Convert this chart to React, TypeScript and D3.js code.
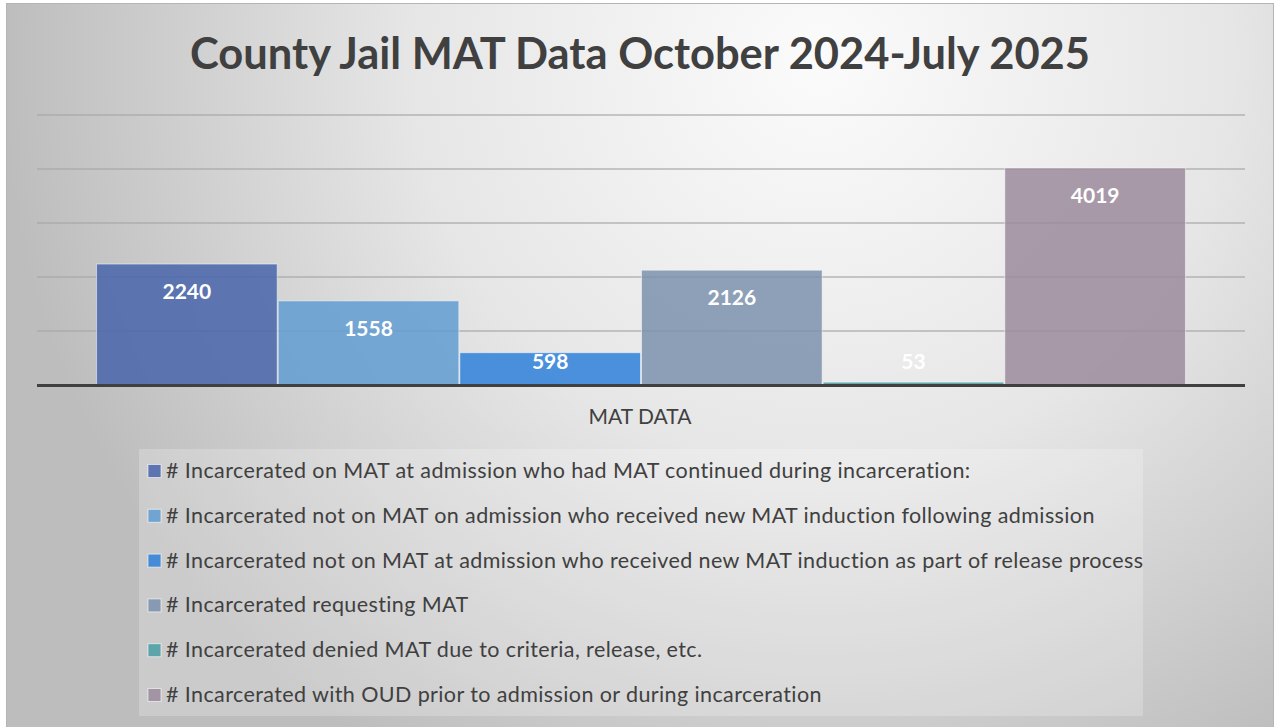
import React from "react";
import * as d3 from "d3";

const title = "County Jail MAT Data October 2024-July 2025";
const categoryLabel = "MAT DATA";
const seriesNames = [
  "# Incarcerated on MAT at admission who had MAT continued during incarceration:",
  "# Incarcerated not on MAT on admission who received new MAT induction following admission",
  "# Incarcerated not on MAT at admission who received new MAT induction as part of release process",
  "# Incarcerated requesting MAT",
  "# Incarcerated denied MAT due to criteria, release, etc.",
  "# Incarcerated with OUD prior to admission or during incarceration",
];
const seriesValues = [2240, 1558, 598, 2126, 53, 4019];
const seriesColors = ["#4865ab", "#609cd1", "#2e80d9", "#7d92ad", "#4a9ea6", "#9c8b9d"];
const yTicks = [0, 1000, 2000, 3000, 4000, 5000];

const W = 1276;
const H = 727;

export default function App() {
  const plotLeft = 37;
  const plotRight = 1245;
  const plotTop = 115;
  const plotBottom = 385;

  const x = d3
    .scaleBand<string>()
    .domain(seriesNames)
    .range([plotLeft, plotRight])
    .paddingInner(0)
    .paddingOuter(0.325);
  const y = d3.scaleLinear().domain([0, 5000]).range([plotBottom, plotTop]);

  const legendX = 139;
  const legendY = 449;
  const legendW = 1004;
  const legendH = 267;
  const rowStep = 44.8;
  const firstRow = 471;

  return (
    <svg
      width={W}
      height={H}
      style={{ position: "absolute", left: 0, top: 0, display: "block" }}
    >
      <defs>
        <radialGradient id="bg" gradientUnits="userSpaceOnUse" cx={820} cy={60} r={820}>
          <stop offset="0" stopColor="#fbfbfb" />
          <stop offset="0.5" stopColor="#e6e6e6" />
          <stop offset="1" stopColor="#bdbdbd" />
        </radialGradient>
      </defs>
      <rect x={0} y={0} width={W} height={H} fill="#ffffff" />
      <rect x={6.5} y={3.5} width={1267} height={H} fill="url(#bg)" stroke="#b5b5b5" strokeWidth={1} />

      <text
        x={640}
        y={69}
        textAnchor="middle"
        fontFamily="Lato, 'Open Sans', sans-serif"
        fontWeight={700}
        fontSize={43}
        fill="#404040"
        textLength={900}
        lengthAdjust="spacingAndGlyphs"
      >
        {title}
      </text>

      {yTicks.slice(1).map((t) => (
        <line
          key={t}
          x1={plotLeft}
          x2={plotRight}
          y1={y(t)}
          y2={y(t)}
          stroke="#a8a8a8"
          strokeOpacity={0.8}
          strokeWidth={1.5}
        />
      ))}

      {seriesNames.map((s, i) => {
        const v = seriesValues[i];
        const bx = x(s)!;
        const by = y(v);
        return (
          <g key={s}>
            <rect
              x={bx + 0.5}
              y={by}
              width={x.bandwidth() - 1}
              height={plotBottom - by}
              fill={seriesColors[i]}
              fillOpacity={0.85}
              stroke="#ffffff"
              strokeOpacity={0.5}
              strokeWidth={1}
            />
          </g>
        );
      })}

      <line x1={plotLeft} x2={plotRight} y1={plotBottom + 0.5} y2={plotBottom + 0.5} stroke="#404040" strokeWidth={3} />

      {seriesNames.map((s, i) => {
        const v = seriesValues[i];
        const bx = x(s)! + x.bandwidth() / 2;
        const top = Math.min(y(v) + 20, plotBottom - 31);
        return (
          <text
            key={s + "l"}
            x={bx}
            y={top + 15}
            textAnchor="middle"
            fontFamily="Lato, 'Open Sans', sans-serif"
            fontWeight={700}
            fontSize={21}
            fill="#ffffff"
          >
            {v}
          </text>
        );
      })}

      <text
        x={640}
        y={424}
        textAnchor="middle"
        fontFamily="Lato, 'Open Sans', sans-serif"
        fontSize={21}
        fill="#404040"
      >
        {categoryLabel}
      </text>

      <rect x={legendX} y={legendY} width={legendW} height={legendH} fill="#ffffff" fillOpacity={0.22} />
      {seriesNames.map((s, i) => {
        const cy = firstRow + i * rowStep;
        return (
          <g key={s + "g"}>
            <rect
              x={148}
              y={cy - 6.5}
              width={13}
              height={13}
              fill={seriesColors[i]}
              fillOpacity={0.85}
              stroke="#ffffff"
              strokeOpacity={0.6}
              strokeWidth={1}
            />
            <text
              x={166}
              y={cy + 7}
              fontFamily="Lato, 'Open Sans', sans-serif"
              fontSize={21.5}
              letterSpacing={0.4}
              fill="#404040"
            >
              {s}
            </text>
          </g>
        );
      })}
    </svg>
  );
}
